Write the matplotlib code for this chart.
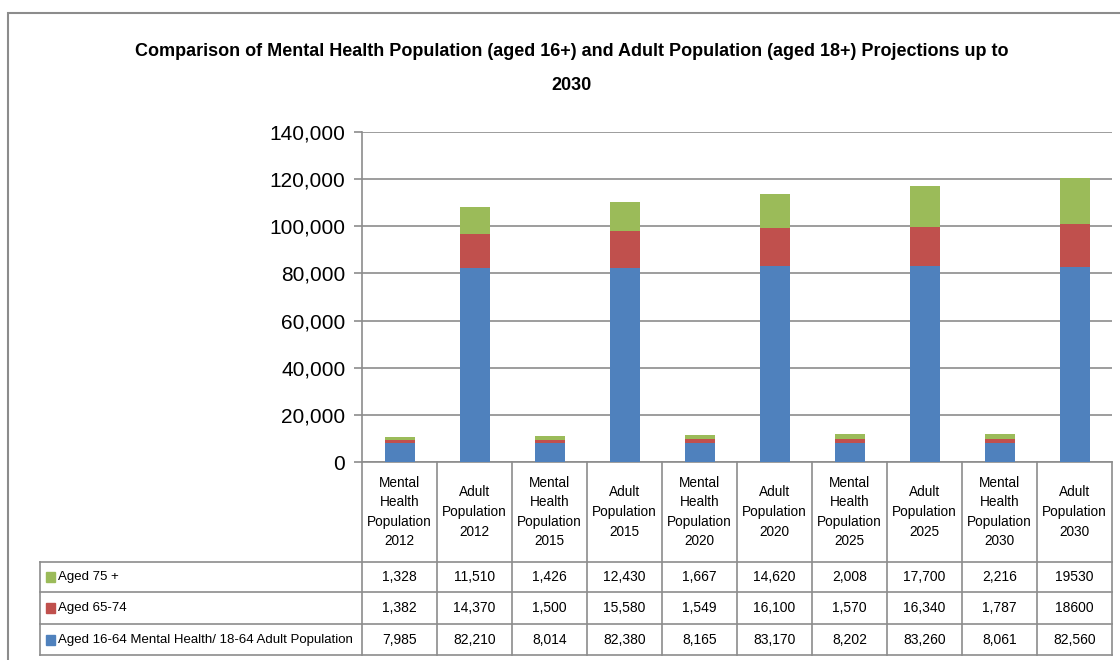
import matplotlib
matplotlib.use("Agg")
import matplotlib.pyplot as plt
import matplotlib.transforms as mtransforms
from matplotlib.lines import Line2D
from matplotlib.patches import Rectangle
import numpy as np

plt.rcParams['font.family'] = ['Liberation Sans', 'DejaVu Sans']

# Donnees
categories = ["Mental\nHealth\nPopulation\n2012", "Adult\nPopulation\n2012",
              "Mental\nHealth\nPopulation\n2015", "Adult\nPopulation\n2015",
              "Mental\nHealth\nPopulation\n2020", "Adult\nPopulation\n2020",
              "Mental\nHealth\nPopulation\n2025", "Adult\nPopulation\n2025",
              "Mental\nHealth\nPopulation\n2030", "Adult\nPopulation\n2030"]
aged_16_64 = [7985, 82210, 8014, 82380, 8165, 83170, 8202, 83260, 8061, 82560]
aged_65_74 = [1382, 14370, 1500, 15580, 1549, 16100, 1570, 16340, 1787, 18600]
aged_75 = [1328, 11510, 1426, 12430, 1667, 14620, 2008, 17700, 2216, 19530]

labels_75 = ["1,328", "11,510", "1,426", "12,430", "1,667", "14,620", "2,008", "17,700", "2,216", "19530"]
labels_65 = ["1,382", "14,370", "1,500", "15,580", "1,549", "16,100", "1,570", "16,340", "1,787", "18600"]
labels_16 = ["7,985", "82,210", "8,014", "82,380", "8,165", "83,170", "8,202", "83,260", "8,061", "82,560"]

series_names = ["Aged 75 +", "Aged 65-74", "Aged 16-64 Mental Health/ 18-64 Adult Population"]
blue, red, green = "#4F81BD", "#C0504D", "#9BBB59"
line_col = "#8C8C8C"

W, H = 1120, 660
fig = plt.figure(figsize=(W / 100, H / 100), dpi=100)

# zone de trace (en pixels)
left, right, top, bottom = 362, 1112, 132, 462
ax = fig.add_axes([left / W, 1 - bottom / H, (right - left) / W, (bottom - top) / H])

x = np.arange(len(categories))
b1 = np.array(aged_16_64)
b2 = b1 + np.array(aged_65_74)
ax.bar(x, aged_16_64, width=0.4, color=blue, zorder=3)
ax.bar(x, aged_65_74, width=0.4, bottom=b1, color=red, zorder=3)
ax.bar(x, aged_75, width=0.4, bottom=b2, color=green, zorder=3)

ax.set_xlim(-0.5, len(categories) - 0.5)
ax.set_ylim(0, 140000)
ax.set_yticks(np.arange(0, 140001, 20000))
ax.set_yticklabels([f"{v:,}" for v in range(0, 140001, 20000)], fontsize=15)
ax.yaxis.grid(True, color=line_col, linewidth=1.2, zorder=0)
ax.set_xticks([])
ax.tick_params(axis='y', length=6, width=1.2, color=line_col, pad=6)
for s in ["top", "right"]:
    ax.spines[s].set_visible(False)
ax.spines["left"].set_color(line_col)
ax.spines["bottom"].set_color(line_col)
ax.spines["left"].set_linewidth(1.2)
ax.spines["bottom"].set_linewidth(1.2)

# Tableau de donnees sous le graphique
def ya(py):
    return (bottom - py) / (bottom - top)

trans = mtransforms.blended_transform_factory(ax.transData, ax.transAxes)
row_lines = [562, 592, 624, 655]
for xb in np.arange(-0.5, len(categories), 1.0):
    ax.add_line(Line2D([xb, xb], [ya(bottom), ya(row_lines[-1])], transform=trans,
                       color=line_col, linewidth=1.2, clip_on=False))
for py in row_lines:
    fig.add_artist(Line2D([40 / W, right / W], [1 - py / H, 1 - py / H],
                          color=line_col, linewidth=1.2))
fig.add_artist(Line2D([40 / W, 40 / W], [1 - row_lines[0] / H, 1 - row_lines[-1] / H],
                      color=line_col, linewidth=1.2))

for i, cat in enumerate(categories):
    ax.text(i, ya(512), cat, transform=trans, ha="center", va="center",
            fontsize=9.8, linespacing=1.5, clip_on=False)

rows = [(labels_75, green), (labels_65, red), (labels_16, blue)]
for r, ((labs, col), name) in enumerate(zip(rows, series_names)):
    cy = (row_lines[r] + row_lines[r + 1]) / 2
    for i, lab in enumerate(labs):
        ax.text(i, ya(cy), lab, transform=trans, ha="center", va="center",
                fontsize=10, clip_on=False)
    fig.add_artist(Rectangle((46 / W, 1 - (cy + 5) / H), 9 / W, 10 / H,
                             color=col, transform=fig.transFigure))
    fig.text(58 / W, 1 - cy / H, name, ha="left", va="center", fontsize=9.5)

# Titre
fig.text(572 / W, 1 - 52 / H,
         "Comparison of Mental Health Population (aged 16+) and Adult Population (aged 18+) Projections up to",
         ha="center", va="center", fontsize=13, fontweight="bold")
fig.text(572 / W, 1 - 85 / H, "2030", ha="center", va="center", fontsize=13, fontweight="bold")

# Bordure de la zone du graphique
fig.add_artist(Rectangle((8 / W, -0.1), 1.2, 1 - 13 / H + 0.1, fill=False,
                         edgecolor="#8C8C8C", linewidth=1.5, transform=fig.transFigure))

fig.savefig("out.png", dpi=100)
